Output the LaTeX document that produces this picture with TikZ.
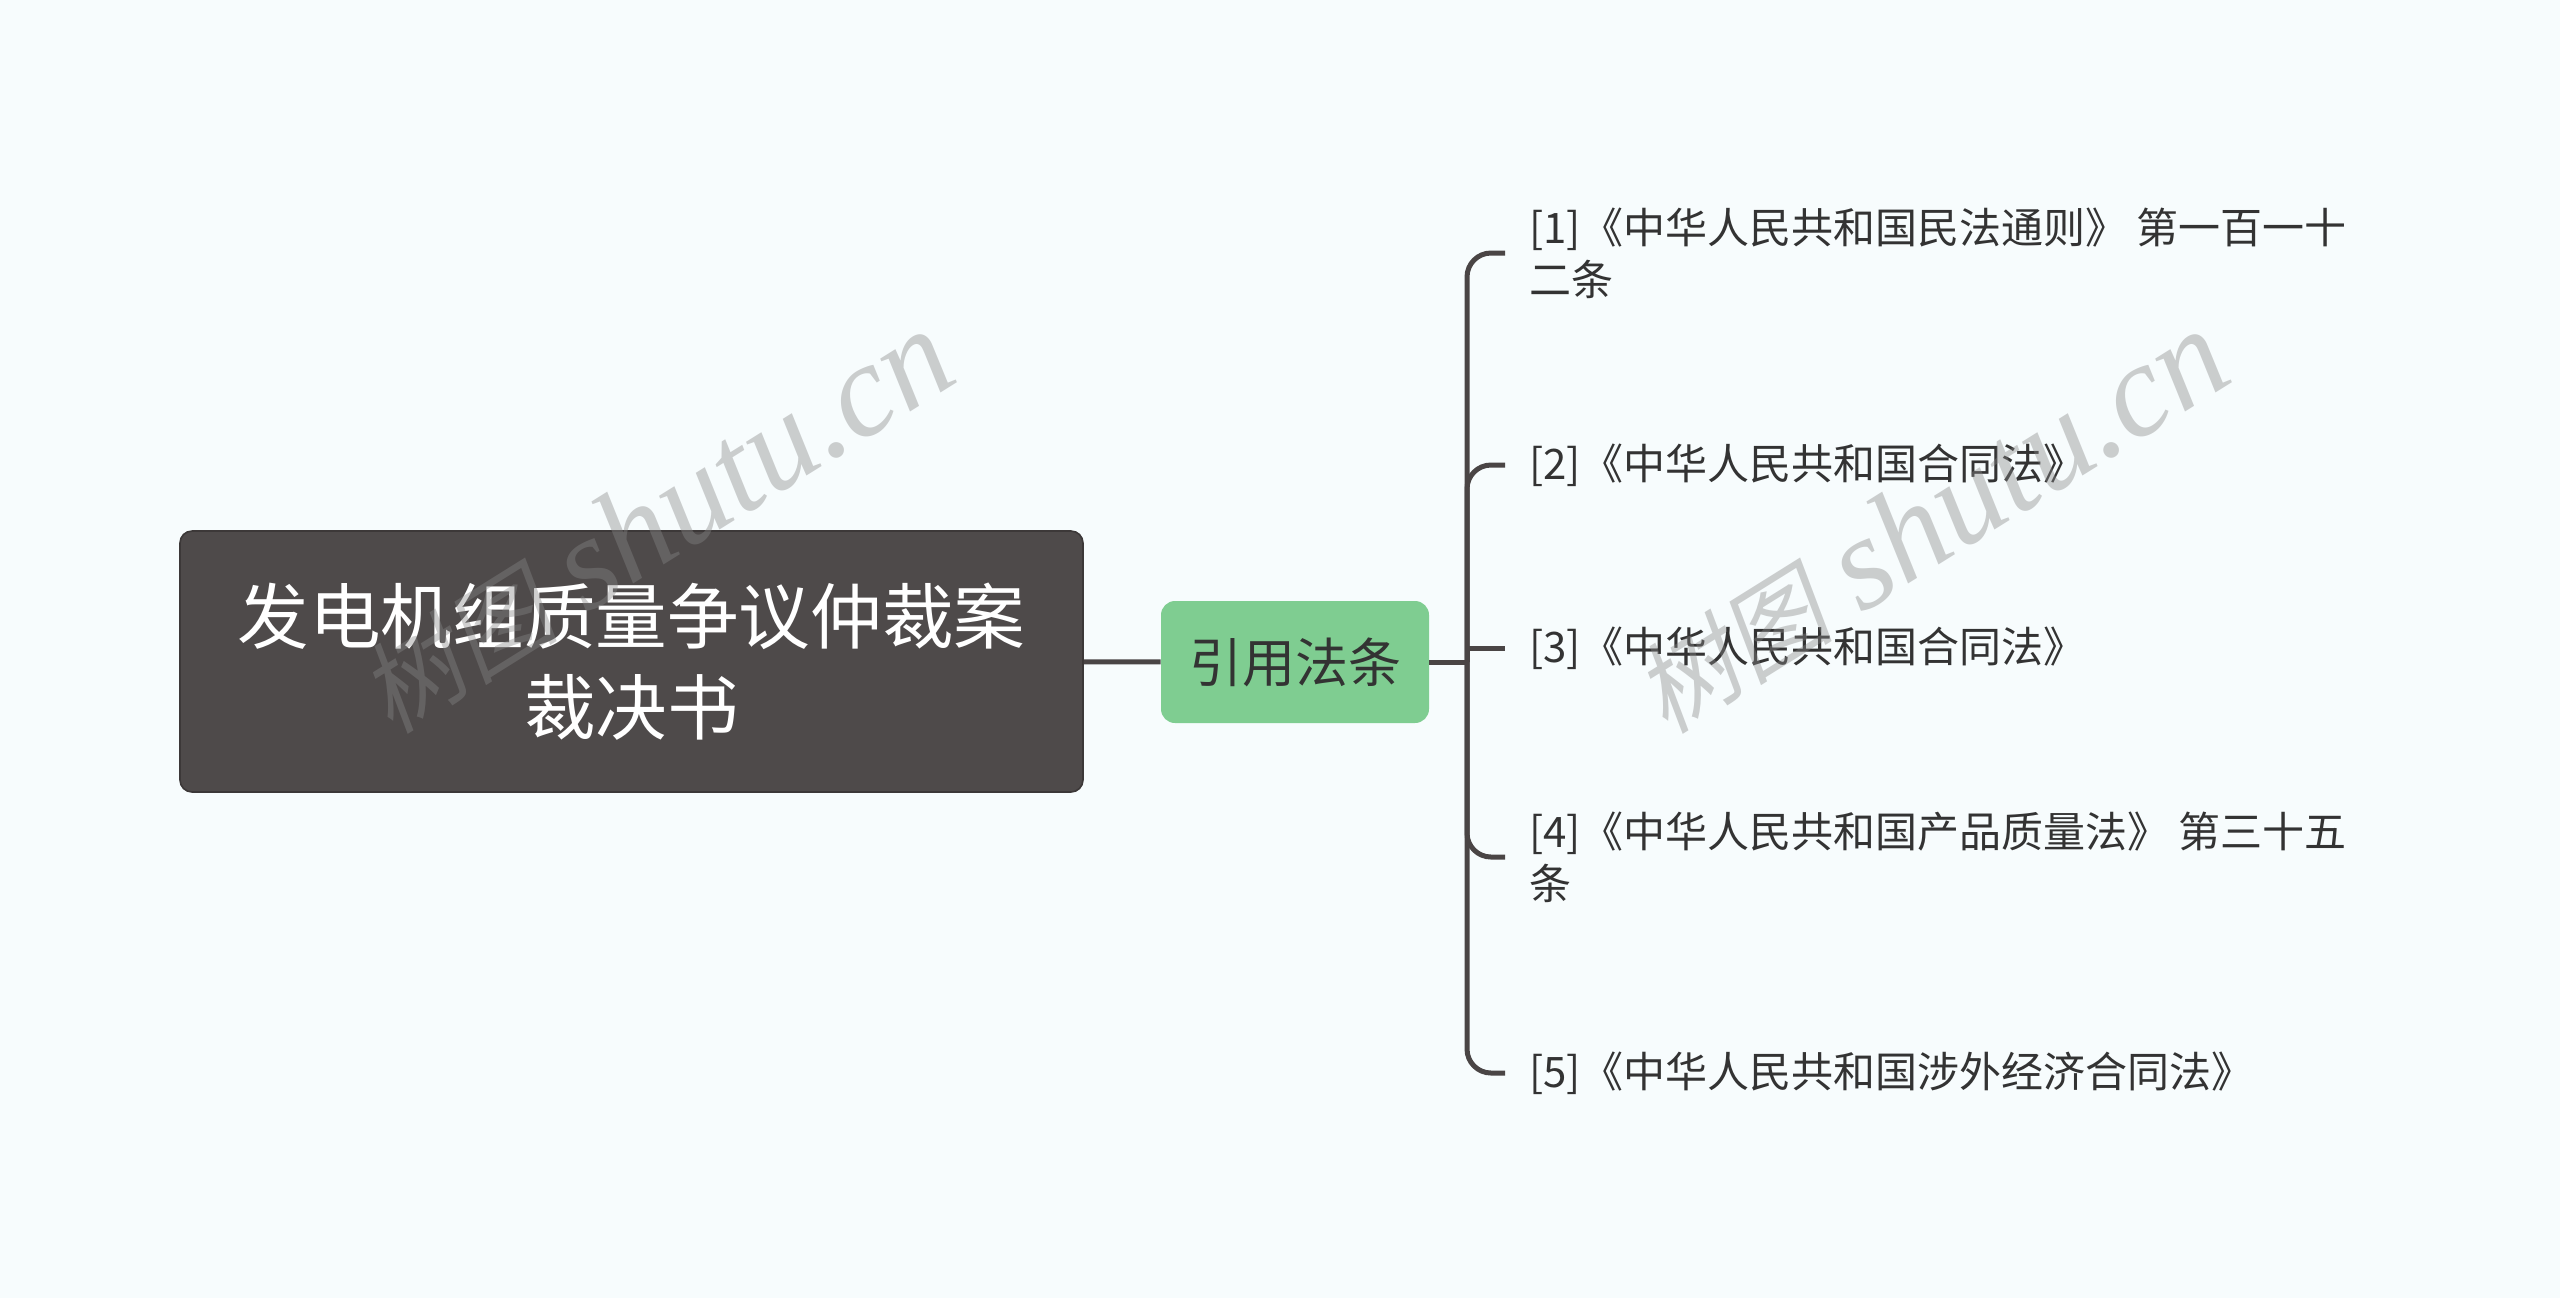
\documentclass[tikz,border=0pt]{standalone}
\usepackage{fontspec}
\setmainfont{Noto Sans CJK SC}
\newfontfamily\markserif{Liberation Serif}
\newfontfamily\markcjk[FakeSlant=0.2]{Noto Sans CJK SC}
\definecolor{PaperColor}{HTML}{F7FCFD}
\definecolor{RootFill}{HTML}{4E4A4A}
\definecolor{RootLine}{HTML}{3C3838}
\definecolor{TopicFill}{HTML}{7FCD91}
\definecolor{TextColor}{HTML}{333333}
\definecolor{EdgeColor}{HTML}{4A4545}
\definecolor{MarkColor}{HTML}{878787}
\tikzset{
  RootStyle/.style = { draw=RootLine, line width=0.8pt, fill=RootFill, rounded corners=6pt,
    text=white, align=center, minimum width=451.5pt, minimum height=130.5pt,
    font=\fontsize{35.8}{45.5}\selectfont },
  TopicStyle/.style = { fill=TopicFill, rounded corners=7pt, text=TextColor,
    minimum width=134pt, minimum height=61pt, font=\fontsize{26.5}{32}\selectfont },
  LeafStyle/.style = { anchor=west, inner xsep=12pt, inner ysep=0pt, align=left,
    text=TextColor, font=\fontsize{21}{26}\selectfont },
  EdgeStyle/.style = { draw=EdgeColor, line width=2.5pt, rounded corners=12pt },
  MarkStyle/.style = { text=MarkColor, text opacity=0.4, rotate=32,
    font=\fontsize{66}{66}\selectfont } }
\begin{document}
\begin{tikzpicture}[x=0.5pt,y=-0.5pt]
  \fill[PaperColor] (0,0) rectangle (2560,1298);
  \useasboundingbox (0,0) rectangle (2560,1298);
  \node[RootStyle] (root) at (631.5,661.5) {发电机组质量争议仲裁案\\裁决书};
  \node[TopicStyle] (cite) at (1295,662) {引用法条};
  \coordinate (hub) at (1467,662);
  \node[LeafStyle] (law1) at (1505,253) {[1]《中华人民共和国民法通则》 第一百一十\\二条};
  \node[LeafStyle] (law2) at (1505,465) {[2]《中华人民共和国合同法》};
  \node[LeafStyle] (law3) at (1505,648) {[3]《中华人民共和国合同法》};
  \node[LeafStyle] (law4) at (1505,857) {[4]《中华人民共和国产品质量法》 第三十五\\条};
  \node[LeafStyle] (law5) at (1505,1073) {[5]《中华人民共和国涉外经济合同法》};
  \draw[EdgeStyle] (root) -- (cite);
  \draw[EdgeStyle] (cite) -- (hub);
  \foreach \n in {1,2,4,5}
    \draw[EdgeStyle] (hub) |- (law\n.west);
  \draw[EdgeStyle, sharp corners] (hub) |- (law3.west);
  \node[MarkStyle] (mark1) at (655,522) {{\markcjk\fontsize{50}{50}\selectfont 树图} \markserif\itshape shutu.cn};
  \node[MarkStyle] (mark2) at (1930,522) {{\markcjk\fontsize{50}{50}\selectfont 树图} \markserif\itshape shutu.cn};
\end{tikzpicture}
\end{document}
